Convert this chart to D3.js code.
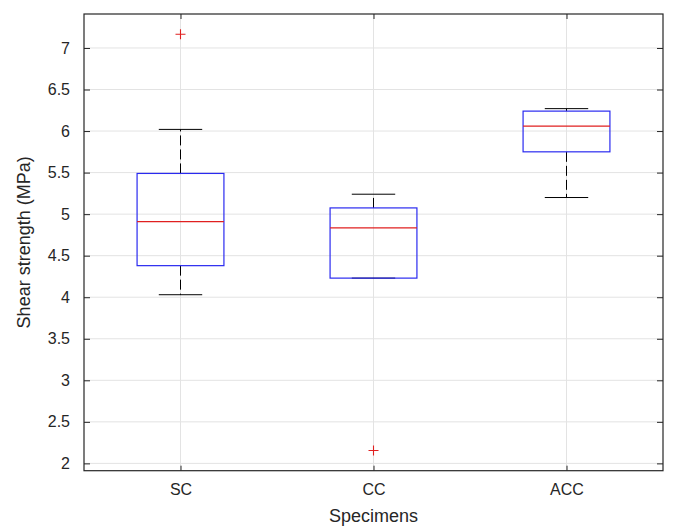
<!DOCTYPE html>
<html>
<head>
<meta charset="utf-8">
<script src="https://cdn.jsdelivr.net/npm/d3@7"></script>
<style>
  html, body { margin: 0; padding: 0; background: #ffffff; }
  svg { display: block; }
  text { font-family: "Liberation Sans", Arial, Helvetica, sans-serif; fill: #262626; }
</style>
</head>
<body>
<svg id="chart" width="673" height="528"></svg>
<script>
// ---- data ----
const categories = ["SC", "CC", "ACC"];
const lowerWhisker = [4.03, 4.23, 5.20];
const q1 = [4.38, 4.23, 5.75];
const medians = [4.91, 4.835, 6.06];
const q3 = [5.49, 5.075, 6.24];
const upperWhisker = [6.02, 5.24, 6.27];
const outliers = [[7.165], [2.155], []];
const yTicks = [2, 2.5, 3, 3.5, 4, 4.5, 5, 5.5, 6, 6.5, 7];
const yLimits = [1.912, 7.409];
const xLabel = "Specimens";
const yLabel = "Shear strength (MPa)";

// ---- layout ----
const plotLeft = 84, plotRight = 663, plotTop = 14, plotBottom = 470.7;
const svg = d3.select("#chart");

const x = d3.scaleLinear().domain([0.5, categories.length + 0.5]).range([plotLeft, plotRight]);
const y = d3.scaleLinear().domain(yLimits).range([plotBottom, plotTop]);

const boxW = 0.45, capW = 0.225;
const gridColor = "#e3e3e3", axisColor = "#262626";

// grid
const g = svg.append("g");
g.selectAll("line.hg").data(yTicks).join("line")
  .attr("x1", plotLeft).attr("x2", plotRight)
  .attr("y1", d => y(d)).attr("y2", d => y(d))
  .attr("stroke", gridColor).attr("stroke-width", 1);
g.selectAll("line.vg").data(categories).join("line")
  .attr("x1", (d, i) => x(i + 1)).attr("x2", (d, i) => x(i + 1))
  .attr("y1", plotTop).attr("y2", plotBottom)
  .attr("stroke", gridColor).attr("stroke-width", 1);

// axes (ticks inside)
const catPos = categories.map((d, i) => i + 1);
const yAxisL = d3.axisLeft(y).tickValues(yTicks).tickSizeInner(-6).tickSizeOuter(0).tickPadding(14).tickFormat(d3.format("~g"));
const yAxisR = d3.axisRight(y).tickValues(yTicks).tickSizeInner(-6).tickSizeOuter(0).tickFormat("");
const xAxisB = d3.axisBottom(x).tickValues(catPos).tickSizeInner(-5).tickSizeOuter(0).tickPadding(13).tickFormat((d, i) => categories[i]);
const xAxisT = d3.axisTop(x).tickValues(catPos).tickSizeInner(-5).tickSizeOuter(0).tickFormat("");

function styleAxis(sel) {
  sel.select(".domain").remove();
  sel.selectAll(".tick line").attr("stroke", axisColor);
  sel.selectAll(".tick text").attr("fill", axisColor).style("font-size", "16px")
    .style("font-family", '"Liberation Sans", Arial, sans-serif');
}
svg.append("g").attr("transform", `translate(${plotLeft},0)`).call(yAxisL).call(styleAxis);
svg.append("g").attr("transform", `translate(${plotRight},0)`).call(yAxisR).call(styleAxis);
svg.append("g").attr("transform", `translate(0,${plotBottom})`).call(xAxisB).call(styleAxis);
svg.append("g").attr("transform", `translate(0,${plotTop})`).call(xAxisT).call(styleAxis);

// frame
svg.append("rect").attr("x", plotLeft).attr("y", plotTop)
  .attr("width", plotRight - plotLeft).attr("height", plotBottom - plotTop)
  .attr("fill", "none").attr("stroke", axisColor).attr("stroke-width", 1.2);

// boxes
const boxes = svg.append("g");
categories.forEach((c, i) => {
  const cx = x(i + 1);
  const bw = x(1 + boxW / 2) - x(1 - boxW / 2);
  const cw = x(1 + capW / 2) - x(1 - capW / 2);
  // whiskers (dashed)
  boxes.append("line").attr("x1", cx).attr("x2", cx)
    .attr("y1", y(q3[i])).attr("y2", y(upperWhisker[i]))
    .attr("stroke", "#000").attr("stroke-width", 1).attr("stroke-dasharray", "10,4");
  boxes.append("line").attr("x1", cx).attr("x2", cx)
    .attr("y1", y(q1[i])).attr("y2", y(lowerWhisker[i]))
    .attr("stroke", "#000").attr("stroke-width", 1).attr("stroke-dasharray", "10,4");
  // caps
  [upperWhisker[i], lowerWhisker[i]].forEach(v => {
    boxes.append("line").attr("x1", cx - cw / 2).attr("x2", cx + cw / 2)
      .attr("y1", y(v)).attr("y2", y(v))
      .attr("stroke", "#000").attr("stroke-width", 1);
  });
  // box
  boxes.append("rect").attr("x", cx - bw / 2).attr("y", y(q3[i]))
    .attr("width", bw).attr("height", y(q1[i]) - y(q3[i]))
    .attr("fill", "none").attr("stroke", "#2a2af0").attr("stroke-width", 1.2);
  // median
  boxes.append("line").attr("x1", cx - bw / 2).attr("x2", cx + bw / 2)
    .attr("y1", y(medians[i])).attr("y2", y(medians[i]))
    .attr("stroke", "#e02020").attr("stroke-width", 1.2);
  // outliers
  outliers[i].forEach(v => {
    const py = y(v), s = 5;
    boxes.append("path")
      .attr("d", `M${cx - s},${py}H${cx + s}M${cx},${py - s}V${py + s}`)
      .attr("stroke", "#e02020").attr("stroke-width", 1.1).attr("fill", "none");
  });
});

// axis labels
svg.append("text").attr("x", (plotLeft + plotRight) / 2).attr("y", 522)
  .attr("text-anchor", "middle").style("font-size", "18px").text(xLabel);
svg.append("text").attr("transform", `translate(30,${(plotTop + plotBottom) / 2}) rotate(-90)`)
  .attr("text-anchor", "middle").style("font-size", "18px").text(yLabel);
</script>
</body>
</html>
